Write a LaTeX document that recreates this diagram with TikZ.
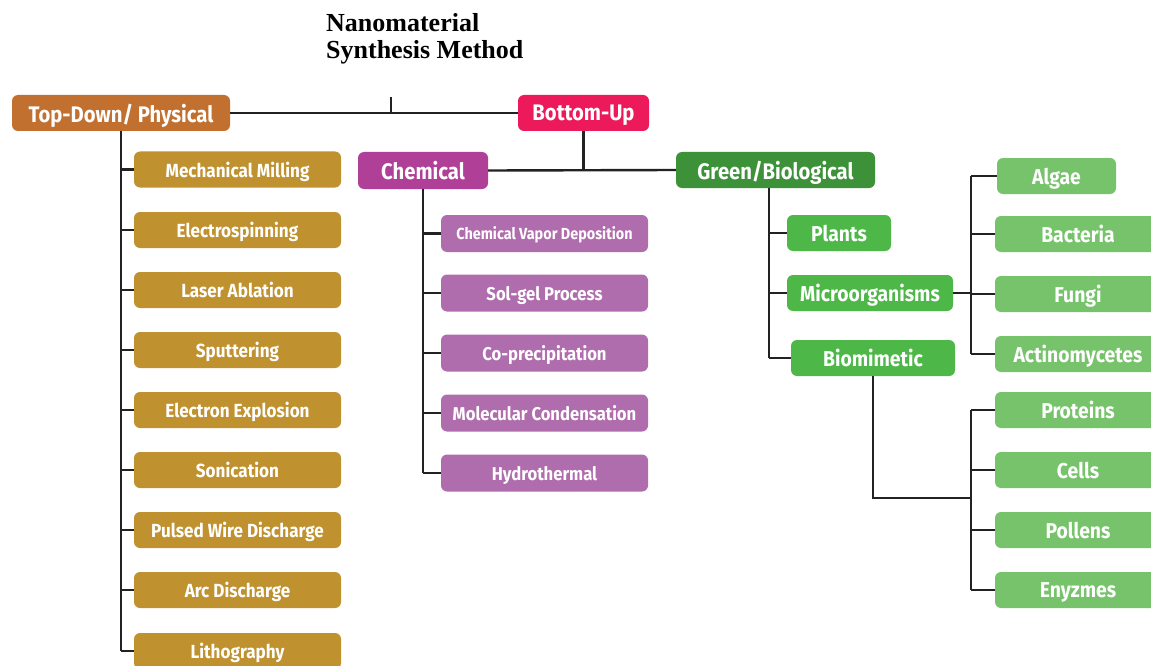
\documentclass[tikz,border=0pt]{standalone}
\usepackage{fontspec}
\setmainfont{Liberation Serif}
\newfontfamily\boxfont{Fira Sans}[FakeStretch=0.9]
\definecolor{ctd}{HTML}{C1702F}
\definecolor{cbu}{HTML}{EC1A5B}
\definecolor{cbr}{HTML}{C0912F}
\definecolor{cch}{HTML}{B03F98}
\definecolor{cpu}{HTML}{B06DAD}
\definecolor{cdg}{HTML}{3C9139}
\definecolor{cgr}{HTML}{4DB748}
\definecolor{clg}{HTML}{77C36B}
\definecolor{cln}{HTML}{222222}
\begin{document}
\begin{tikzpicture}[x=1pt,y=-1pt,
  box/.style={rounded corners=6pt, text=white, inner sep=0pt, text depth=0pt, font=\boxfont\bfseries\fontsize{19}{21}\selectfont},
  bigbox/.style={box, font=\boxfont\bfseries\fontsize{22.5}{24}\selectfont},
  leafbox/.style={box, font=\boxfont\bfseries\fontsize{21.5}{23}\selectfont},
  conn/.style={draw=cln, line width=2.4pt}]
\useasboundingbox (0,0) rectangle (1151,666);
\fill[white] (0,0) rectangle (1151,666);

\node[anchor=north west, align=left, font=\bfseries\fontsize{26}{27.5}\selectfont, inner sep=0pt] (title) at (326,13) {Nanomaterial\\Synthesis Method};

% level 1
\node[bigbox, fill=ctd, minimum width=218pt, minimum height=36pt] (td) at (121,113) {Top-Down/ Physical};
\node[bigbox, fill=cbu, minimum width=131pt, minimum height=36pt] (bu) at (583.5,113) {Bottom-Up};
\coordinate (tk) at (391,97);
\draw[conn] (td.east) -- (bu.west);
\draw[conn] (tk) -- (tk |- td.east);

% top-down children
\foreach \n/\t/\y in {mm/Mechanical Milling/169.5, es/Electrospinning/230, la/Laser Ablation/290, sp/Sputtering/350, ee/Electron Explosion/410, so/Sonication/470, pw/Pulsed Wire Discharge/530, ad/Arc Discharge/590, li/Lithography/651}{
  \node[box, fill=cbr, minimum width=207pt, minimum height=36pt] (\n) at (237.5,\y) {\t};
  \draw[conn] (td.south |- \n.west) -- (\n.west);
}
\draw[conn] (td.south) -- (td.south |- li.west);

% bottom-up level 2
\node[bigbox, fill=cch, minimum width=130pt, minimum height=37pt] (ch) at (423,170.5) {Chemical};
\node[bigbox, fill=cdg, minimum width=199pt, minimum height=36pt] (gb) at (775.5,170) {Green/Biological};
\draw[conn] (bu.south) -- (bu.south |- ch.east);
\draw[conn] (ch.east) -- (gb.west);

% chemical children
\node[box, fill=cpu, minimum width=207pt, minimum height=37pt, font=\boxfont\bfseries\fontsize{16}{18}\selectfont] (cvd) at (544.5,233.5) {Chemical Vapor Deposition};
\foreach \n/\t/\y in {sg/Sol-gel Process/293, cp/Co-precipitation/353, mc/Molecular Condensation/413, hy/Hydrothermal/473}{
  \node[box, fill=cpu, minimum width=207pt, minimum height=37pt, font=\boxfont\bfseries\fontsize{18.5}{20}\selectfont] (\n) at (544.5,\y) {\t};
}
\foreach \n in {cvd,sg,cp,mc,hy}{\draw[conn] (ch.south |- \n.west) -- (\n.west);}
\draw[conn] (ch.south) -- (ch.south |- hy.west);

% green children
\node[leafbox, fill=cgr, minimum width=104pt, minimum height=36pt] (pl) at (839,233) {Plants};
\node[leafbox, fill=cgr, minimum width=166pt, minimum height=36pt] (mo) at (870,293) {Microorganisms};
\node[leafbox, fill=cgr, minimum width=164pt, minimum height=36pt] (bm) at (873,358) {Biomimetic};
\coordinate (gv) at (769,188);
\draw[conn] (gv) -- (gv |- bm.west);
\foreach \n in {pl,mo,bm}{\draw[conn] (gv |- \n.west) -- (\n.west);}

% microorganism children
\node[leafbox, fill=clg, minimum width=119pt, minimum height=36pt] (al) at (1056.5,176) {Algae};
\foreach \n/\t/\y in {ba/Bacteria/234, fu/Fungi/294, ac/Actinomycetes/354, pr/Proteins/410, ce/Cells/470, po/Pollens/530, en/Enyzmes/590}{
  \node[leafbox, fill=clg, minimum width=166pt, minimum height=36pt] (\n) at (1078,\y) {\t};
}
\coordinate (mv) at (971,293);
\draw[conn] (mo.east) -- (mv);
\draw[conn] (mv |- al.west) -- (mv |- ac.west);
\foreach \n in {al,ba,fu,ac}{\draw[conn] (mv |- \n.west) -- (\n.west);}

% biomimetic children
\coordinate (bj) at (971,498);
\draw[conn] (bm.south) |- (bj);
\draw[conn] (bj |- pr.west) -- (bj |- en.west);
\foreach \n in {pr,ce,po,en}{\draw[conn] (bj |- \n.west) -- (\n.west);}
\end{tikzpicture}
\end{document}
